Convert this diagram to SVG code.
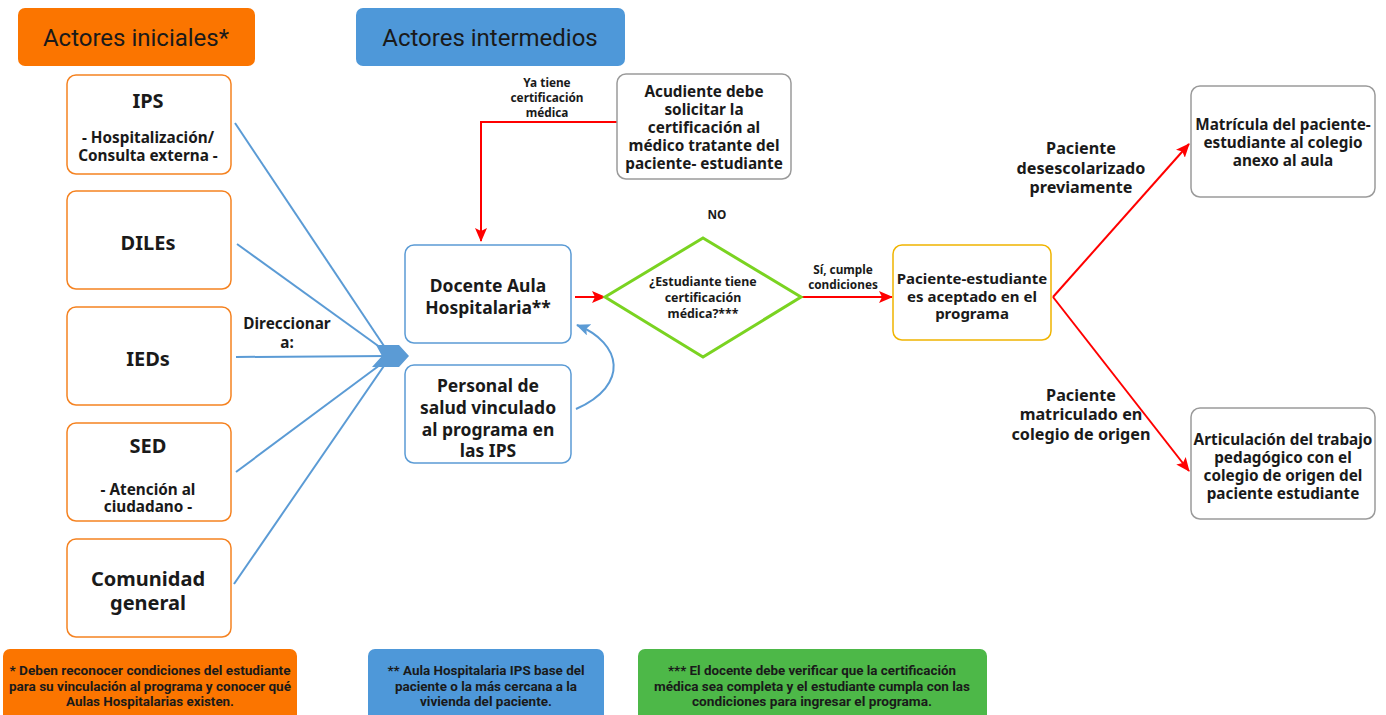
<svg xmlns="http://www.w3.org/2000/svg" width="1386" height="715" viewBox="0 0 1386 715">
<style>
text{font-family:"Noto Sans","Open Sans","Liberation Sans",sans-serif;fill:#1a1a1a;text-anchor:middle;font-weight:bold}
.hdr{font-family:Roboto,"Noto Sans",sans-serif;font-weight:normal;font-size:24px}
.orn{fill:#fff;stroke:#F58220;stroke-width:1.5}
.blu{fill:#fff;stroke:#5B9BD5;stroke-width:1.5}
.gry{fill:#fff;stroke:#9a9a9a;stroke-width:1.5}
.t20{font-size:20px}
.t17{font-size:17.5px}
.t15{font-size:15.3px}
.t14{font-size:15.3px}
.lb{font-size:16.2px}
.t12{font-size:12.4px}
.sm{font-size:11.8px}
.ft{font-family:Roboto,"Noto Sans",sans-serif;font-size:13px}
.bl{stroke:#5B9BD5;stroke-width:2;fill:none}
.rd{stroke:#FF0000;stroke-width:2;fill:none}
</style>
<defs>
<marker id="ar" viewBox="0 0 14 12" refX="13" refY="6" markerWidth="14" markerHeight="12" orient="auto" markerUnits="userSpaceOnUse">
<path d="M0,0 L14,6 L0,12 L3,6 z" fill="#FF0000"/>
</marker>
<marker id="ab" viewBox="0 0 14 12" refX="13" refY="6" markerWidth="14" markerHeight="12" orient="auto" markerUnits="userSpaceOnUse">
<path d="M0,0 L14,6 L0,12 L3,6 z" fill="#5B9BD5"/>
</marker>
</defs>
<rect width="1386" height="715" fill="#fff"/>

<g id="hdr-iniciales">
<rect x="18" y="8" width="237" height="58" rx="7" fill="#FB7500"/>
<text class="hdr" x="136" y="46">Actores iniciales*</text>
</g>
<g id="hdr-intermedios">
<rect x="356" y="8" width="269" height="58" rx="7" fill="#4E98D9"/>
<text class="hdr" x="490" y="46">Actores intermedios</text>
</g>

<g id="connectors">
<line class="bl" x1="235" y1="123" x2="388" y2="352"/>
<line class="bl" x1="237" y1="244" x2="388" y2="353"/>
<line class="bl" x1="236" y1="357" x2="388" y2="356"/>
<line class="bl" x1="236" y1="472" x2="388" y2="359"/>
<line class="bl" x1="234" y1="584" x2="388" y2="360"/>
<polygon points="376,345 399,345 409,356 399,367 372,367 382,356" fill="#5B9BD5"/>
<path d="M617,122 H481 V241" class="rd" marker-end="url(#ar)"/>
<line x1="575" y1="297" x2="605" y2="297" class="rd" marker-end="url(#ar)"/>
<line x1="801" y1="297" x2="892" y2="297" class="rd" marker-end="url(#ar)"/>
<line x1="1053" y1="297" x2="1189" y2="144" class="rd" marker-end="url(#ar)"/>
<line x1="1053" y1="297" x2="1189" y2="471" class="rd" marker-end="url(#ar)"/>
<path d="M576,409 C630,385 622,343 577,325" class="bl" marker-end="url(#ab)"/>
<text class="t14" x="287" y="329">Direccionar</text>
<text class="t14" x="287" y="348">a:</text>
<text class="sm" x="547" y="87">Ya tiene</text>
<text class="sm" x="547" y="102">certificación</text>
<text class="sm" x="547" y="117">médica</text>
<text class="sm" x="717" y="219">NO</text>
<text class="sm" x="843" y="274">Sí, cumple</text>
<text class="sm" x="843" y="289">condiciones</text>
<text class="lb" x="1081" y="154">Paciente</text>
<text class="lb" x="1081" y="174">desescolarizado</text>
<text class="lb" x="1081" y="193">previamente</text>
<text class="lb" x="1081" y="401">Paciente</text>
<text class="lb" x="1081" y="420">matriculado en</text>
<text class="lb" x="1081" y="440">colegio de origen</text>
</g>

<g id="n-ips">
<rect class="orn" x="67" y="75" width="164" height="99" rx="9"/>
<text class="t20" x="148" y="108">IPS</text>
<text class="t14" x="148" y="143">- Hospitalización/</text>
<text class="t14" x="148" y="161">Consulta externa -</text>
</g>
<g id="n-diles">
<rect class="orn" x="67" y="191" width="164" height="98" rx="9"/>
<text class="t20" x="148" y="250">DILEs</text>
</g>
<g id="n-ieds">
<rect class="orn" x="67" y="307" width="164" height="98" rx="9"/>
<text class="t20" x="148" y="366">IEDs</text>
</g>
<g id="n-sed">
<rect class="orn" x="67" y="423" width="164" height="98" rx="9"/>
<text class="t20" x="148" y="453">SED</text>
<text class="t14" x="148" y="495">- Atención al</text>
<text class="t14" x="148" y="512">ciudadano -</text>
</g>
<g id="n-comunidad">
<rect class="orn" x="67" y="539" width="164" height="98" rx="9"/>
<text class="t20" x="148" y="586">Comunidad</text>
<text class="t20" x="148" y="610">general</text>
</g>

<g id="n-docente">
<rect class="blu" x="405" y="245" width="166" height="98" rx="9"/>
<text class="t17" x="488" y="292">Docente Aula</text>
<text class="t17" x="488" y="314">Hospitalaria**</text>
</g>
<g id="n-personal">
<rect class="blu" x="405" y="365" width="166" height="98" rx="9"/>
<text class="t17" x="488" y="392">Personal de</text>
<text class="t17" x="488" y="414">salud vinculado</text>
<text class="t17" x="488" y="436">al programa en</text>
<text class="t17" x="488" y="457">las IPS</text>
</g>
<g id="n-acudiente">
<rect class="gry" x="617" y="74" width="174" height="105" rx="9"/>
<text class="t15" x="704" y="97">Acudiente debe</text>
<text class="t15" x="704" y="115">solicitar la</text>
<text class="t15" x="704" y="133">certificación al</text>
<text class="t15" x="704" y="151">médico tratante del</text>
<text class="t15" x="704" y="169">paciente- estudiante</text>
</g>
<g id="n-decision">
<polygon points="703,238 801,297 703,357 605,297" fill="#fff" stroke="#7AD321" stroke-width="3"/>
<text class="t12" x="703" y="286">¿Estudiante tiene</text>
<text class="t12" x="703" y="302">certificación</text>
<text class="t12" x="703" y="318">médica?***</text>
</g>
<g id="n-aceptado">
<rect x="893" y="245" width="158" height="95" rx="9" fill="#fff" stroke="#F0B400" stroke-width="1.5"/>
<text style="font-size:15px" x="972" y="284">Paciente-estudiante</text>
<text style="font-size:15px" x="972" y="302">es aceptado en el</text>
<text style="font-size:15px" x="972" y="319">programa</text>
</g>
<g id="n-matricula">
<rect class="gry" x="1191" y="86" width="184" height="111" rx="9"/>
<text class="t14" x="1283" y="130">Matrícula del paciente-</text>
<text class="t14" x="1283" y="148">estudiante al colegio</text>
<text class="t14" x="1283" y="166">anexo al aula</text>
</g>
<g id="n-articulacion">
<rect class="gry" x="1191" y="408" width="184" height="111" rx="9"/>
<text class="t14" x="1283" y="445">Articulación del trabajo</text>
<text class="t14" x="1283" y="463">pedagógico con el</text>
<text class="t14" x="1283" y="481">colegio de origen del</text>
<text class="t14" x="1283" y="499">paciente estudiante</text>
</g>

<g id="note-1">
<rect x="3" y="649" width="294" height="72" rx="7" fill="#FB7500"/>
<text class="ft" x="150" y="675" textLength="281" lengthAdjust="spacingAndGlyphs">* Deben reconocer condiciones del estudiante</text>
<text class="ft" x="150" y="691" textLength="282" lengthAdjust="spacingAndGlyphs">para su vinculación al programa y conocer qué</text>
<text class="ft" x="150" y="706" textLength="168" lengthAdjust="spacingAndGlyphs">Aulas Hospitalarias existen.</text>
</g>
<g id="note-2">
<rect x="368" y="649" width="236" height="72" rx="7" fill="#4E98D9"/>
<text class="ft" x="486" y="675" textLength="197" lengthAdjust="spacingAndGlyphs">** Aula Hospitalaria IPS base del</text>
<text class="ft" x="486" y="691" textLength="182" lengthAdjust="spacingAndGlyphs">paciente o la más cercana a la</text>
<text class="ft" x="486" y="706" textLength="132" lengthAdjust="spacingAndGlyphs">vivienda del paciente.</text>
</g>
<g id="note-3">
<rect x="638" y="649" width="349" height="72" rx="7" fill="#4DB848"/>
<text class="ft" x="812" y="675" textLength="288" lengthAdjust="spacingAndGlyphs">*** El docente debe verificar que la certificación</text>
<text class="ft" x="812" y="691" textLength="316" lengthAdjust="spacingAndGlyphs">médica sea completa y el estudiante cumpla con las</text>
<text class="ft" x="812" y="706" textLength="240" lengthAdjust="spacingAndGlyphs">condiciones para ingresar el programa.</text>
</g>
</svg>
